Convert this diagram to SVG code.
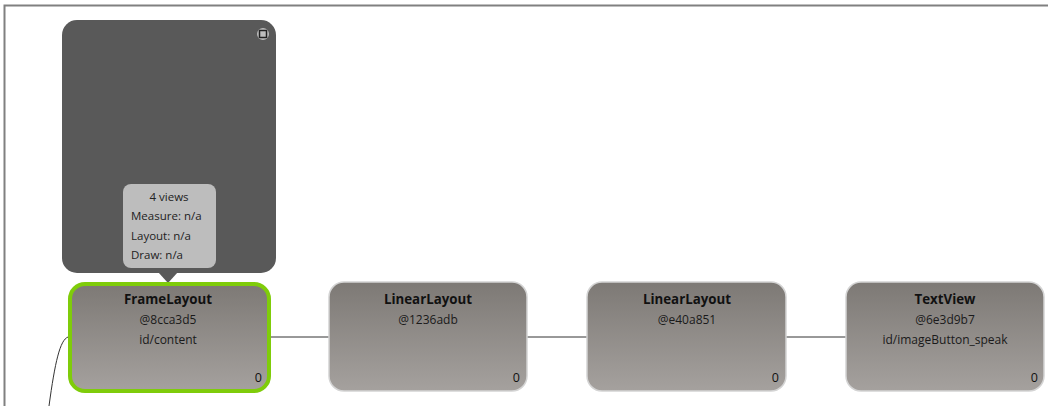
<svg xmlns="http://www.w3.org/2000/svg" width="1049" height="406" viewBox="0 0 1049 406">
<defs>
<linearGradient id="nodeGrad" x1="0" y1="0" x2="0" y2="1">
<stop offset="0" stop-color="#7d7975"/>
<stop offset="1" stop-color="#a5a19e"/>
</linearGradient>
<style>
.node{fill:url(#nodeGrad);stroke:#d4d4d4;stroke-width:1.5}
.sel{fill:url(#nodeGrad);stroke:#7fcc0a;stroke-width:4}
.title{font-family:"Open Sans","Liberation Sans",sans-serif;font-size:13.3px;font-weight:bold;fill:#111;text-anchor:middle}
.sub{font-family:"Open Sans","Liberation Sans",sans-serif;font-size:12px;fill:#1a1a1a;text-anchor:middle}
.cnt{font-family:"Open Sans","Liberation Sans",sans-serif;font-size:12.5px;fill:#111;text-anchor:end}
.tip{font-family:"Open Sans","Liberation Sans",sans-serif;font-size:11.5px;fill:#222}
.conn{fill:none;stroke:#333;stroke-width:1}
</style>
</defs>
<rect width="1049" height="406" fill="#ffffff"/>
<path d="M4.5,406 V5.5 H1048" fill="none" stroke="#808080" stroke-width="2"/>
<g id="connectors">
<path class="conn" d="M271,337 H329"/>
<path class="conn" d="M527,337 H587"/>
<path class="conn" d="M786,337 H846"/>
<path class="conn" d="M68,337 C60,340 55,362 49,406"/>
</g>
<g id="preview">
<rect x="62" y="20" width="214" height="253" rx="15" fill="#595959"/>
<path d="M158,272 L178,272 L168,283 Z" fill="#595959"/>
<circle cx="263" cy="34" r="6" fill="#bdbdbd"/>
<rect x="259.5" y="30.5" width="7" height="7" fill="none" stroke="#222" stroke-width="1.5"/>
</g>
<g id="tooltip">
<rect x="123" y="184" width="93" height="84" rx="8" fill="#bdbdbd"/>
<text class="tip" x="169" y="201" text-anchor="middle">4 views</text>
<text class="tip" x="131" y="220">Measure: n/a</text>
<text class="tip" x="131" y="240">Layout: n/a</text>
<text class="tip" x="131" y="259">Draw: n/a</text>
</g>
<g id="node-framelayout">
<rect class="sel" x="70" y="284" width="199" height="107" rx="15"/>
<text class="title" x="168" y="304">FrameLayout</text>
<text class="sub" x="168" y="324">@8cca3d5</text>
<text class="sub" x="168" y="344">id/content</text>
<text class="cnt" x="262" y="382">0</text>
</g>
<g id="node-linearlayout1">
<rect class="node" x="329" y="282" width="198" height="109" rx="15"/>
<text class="title" x="428" y="304">LinearLayout</text>
<text class="sub" x="428" y="324">@1236adb</text>
<text class="cnt" x="520" y="382">0</text>
</g>
<g id="node-linearlayout2">
<rect class="node" x="587" y="282" width="199" height="109" rx="15"/>
<text class="title" x="687" y="304">LinearLayout</text>
<text class="sub" x="687" y="324">@e40a851</text>
<text class="cnt" x="779" y="382">0</text>
</g>
<g id="node-textview">
<rect class="node" x="846" y="282" width="198" height="109" rx="15"/>
<text class="title" x="945" y="304">TextView</text>
<text class="sub" x="945" y="324">@6e3d9b7</text>
<text class="sub" x="945" y="344">id/imageButton_speak</text>
<text class="cnt" x="1038" y="382">0</text>
</g>
</svg>
